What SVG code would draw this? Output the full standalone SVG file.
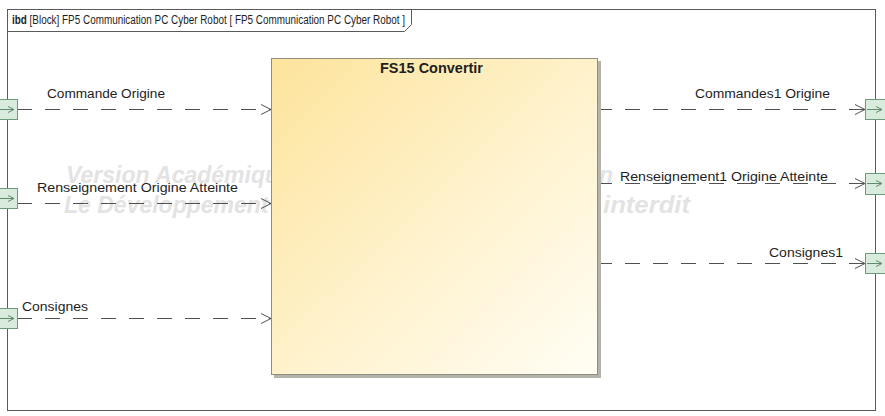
<svg xmlns="http://www.w3.org/2000/svg" width="885" height="416" viewBox="0 0 885 416">
  <style>
    text { font-family: "Liberation Sans", Arial, sans-serif; fill: #1e1e1e; }
    .lbl { font-size: 12.5px; }
    .title { font-size: 14px; font-weight: bold; }
    .wm { font-size: 23px; font-weight: bold; font-style: italic; fill: #e3e3e3; }
    .frame { fill: none; stroke: #5a5a5a; stroke-width: 1; }
    .flow { fill: none; stroke: #505050; stroke-width: 1; stroke-dasharray: 15 13; }
    .port { fill: #d8ebdc; stroke: #6e9a7c; stroke-width: 1; }
    .parrow { fill: none; stroke: #5e8c6c; stroke-width: 1; }
  </style>
  <defs>
    <linearGradient id="blockFill" x1="0" y1="0" x2="1" y2="1">
      <stop offset="0" stop-color="#fde49c"/>
      <stop offset="0.55" stop-color="#fff3cf"/>
      <stop offset="1" stop-color="#fffdf5"/>
    </linearGradient>
    <marker id="open" markerWidth="12" markerHeight="12" refX="11" refY="6" orient="auto" markerUnits="userSpaceOnUse">
      <path d="M1,1 L11,6 L1,11" fill="none" stroke="#505050" stroke-width="1"/>
    </marker>
    <marker id="pa" markerWidth="8" markerHeight="8" refX="7" refY="4" orient="auto" markerUnits="userSpaceOnUse">
      <path d="M1,1 L7,4 L1,7" fill="none" stroke="#5e8c6c" stroke-width="1"/>
    </marker>
  </defs>

  <rect width="885" height="416" fill="#ffffff"/>

  <!-- diagram frame with its header tab -->
  <g id="frame">
    <rect x="7.5" y="9.5" width="868" height="401" class="frame"/>
    <path d="M7.5,31.5 H404.5 L411.5,24.5 V9.5" class="frame"/>
    <text x="12" y="24" font-size="12" textLength="393" lengthAdjust="spacingAndGlyphs"><tspan font-weight="bold">ibd</tspan> [Block] FP5 Communication PC Cyber Robot [ FP5 Communication PC Cyber Robot ]</text>
  </g>

  <!-- licence watermark (partly hidden by the block) -->
  <g id="watermark">
    <text class="wm" x="66" y="183">Version Académique</text>
    <text class="wm" x="64" y="213">Le Développement</text>
    <text class="wm" x="599" y="183">n</text>
    <text class="wm" x="603" y="213" textLength="87" lengthAdjust="spacingAndGlyphs">interdit</text>
  </g>

  <!-- item flows -->
  <g id="connectors">
    <line x1="17" y1="109.5" x2="271" y2="109.5" class="flow" marker-end="url(#open)"/>
    <line x1="17" y1="203.5" x2="271" y2="203.5" class="flow" marker-end="url(#open)"/>
    <line x1="17" y1="318.5" x2="271" y2="318.5" class="flow" marker-end="url(#open)"/>
    <line x1="597" y1="109.5" x2="865" y2="109.5" class="flow" marker-end="url(#open)"/>
    <line x1="597" y1="183.5" x2="865" y2="183.5" class="flow" marker-end="url(#open)"/>
    <line x1="597" y1="263.5" x2="865" y2="263.5" class="flow" marker-end="url(#open)"/>
    <text class="lbl" x="47" y="98" textLength="118" lengthAdjust="spacingAndGlyphs">Commande Origine</text>
    <text class="lbl" x="37" y="192" textLength="201" lengthAdjust="spacingAndGlyphs">Renseignement Origine Atteinte</text>
    <text class="lbl" x="22" y="311" textLength="66" lengthAdjust="spacingAndGlyphs">Consignes</text>
    <text class="lbl" x="695" y="98" textLength="135" lengthAdjust="spacingAndGlyphs">Commandes1 Origine</text>
    <text class="lbl" x="620" y="181" textLength="208" lengthAdjust="spacingAndGlyphs">Renseignement1 Origine Atteinte</text>
    <text class="lbl" x="769" y="257" textLength="74" lengthAdjust="spacingAndGlyphs">Consignes1</text>
  </g>

  <!-- block FS15 Convertir -->
  <g id="fs15">
    <rect x="274" y="61" width="327" height="317" fill="#b4b4ac"/>
    <rect x="271.5" y="58.5" width="326" height="316" fill="url(#blockFill)" stroke="#8e8e7e" stroke-width="1"/>
    <text class="title" x="380" y="73" textLength="103" lengthAdjust="spacingAndGlyphs">FS15 Convertir</text>
  </g>

  <!-- boundary ports -->
  <g id="port-in-commande">
    <rect x="-2.5" y="99.5" width="20" height="20" class="port"/>
    <line x1="0" y1="109.5" x2="14" y2="109.5" class="parrow" marker-end="url(#pa)"/>
  </g>
  <g id="port-in-renseignement">
    <rect x="-2.5" y="188.5" width="20" height="20" class="port"/>
    <line x1="0" y1="198.5" x2="14" y2="198.5" class="parrow" marker-end="url(#pa)"/>
  </g>
  <g id="port-in-consignes">
    <rect x="-2.5" y="308.5" width="20" height="20" class="port"/>
    <line x1="0" y1="318.5" x2="14" y2="318.5" class="parrow" marker-end="url(#pa)"/>
  </g>
  <g id="port-out-commandes1">
    <rect x="865.5" y="99.5" width="20" height="20" class="port"/>
    <line x1="867" y1="109.5" x2="882" y2="109.5" class="parrow" marker-end="url(#pa)"/>
  </g>
  <g id="port-out-renseignement1">
    <rect x="865.5" y="173.5" width="20" height="21" class="port"/>
    <line x1="867" y1="183.5" x2="882" y2="183.5" class="parrow" marker-end="url(#pa)"/>
  </g>
  <g id="port-out-consignes1">
    <rect x="865.5" y="253.5" width="20" height="20" class="port"/>
    <line x1="867" y1="263.5" x2="882" y2="263.5" class="parrow" marker-end="url(#pa)"/>
  </g>
</svg>
